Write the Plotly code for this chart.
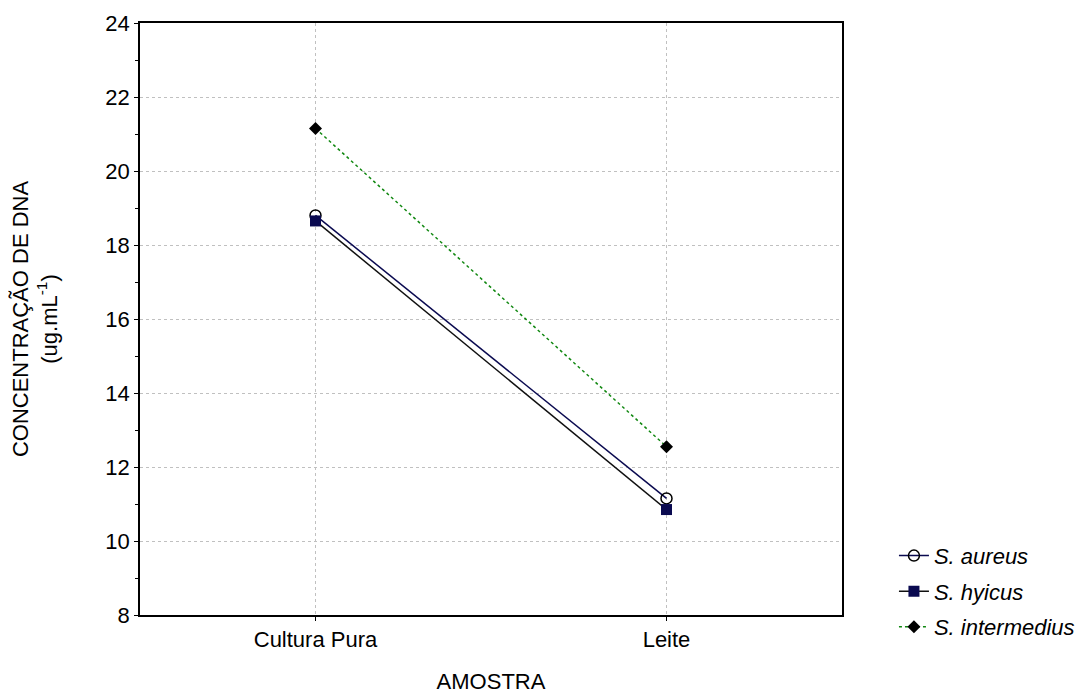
import plotly.graph_objects as go

categories = ["Cultura Pura", "Leite"]
aureus = [18.8, 11.15]
hyicus = [18.65, 10.85]
intermedius = [21.15, 12.55]
y_ticks = [8, 10, 12, 14, 16, 18, 20, 22, 24]

FONT = "Arial, Liberation Sans, sans-serif"
FS = 22

fig = go.Figure()
fig.add_trace(go.Scatter(
    x=categories, y=aureus, name="S. aureus", mode="lines+markers", legendgroup="a",
    line=dict(color="#0a0a50", width=1.5),
    marker=dict(symbol="circle-open", size=11, color="black", line=dict(width=1.5, color="black")),
))
fig.add_trace(go.Scatter(
    x=categories, y=hyicus, name="S. hyicus", mode="lines+markers", legendgroup="b",
    line=dict(color="#101010", width=1.5),
    marker=dict(symbol="square", size=11, color="#0a0a50"),
))
fig.add_trace(go.Scatter(
    x=categories, y=intermedius, name="S. intermedius", mode="lines+markers", legendgroup="c",
    line=dict(color="#118811", width=1.5, dash="dot"),
    marker=dict(symbol="diamond", size=10, color="black"),
))

fig.update_layout(
    width=1088, height=693,
    margin=dict(l=132, r=254, t=15, b=86, autoexpand=False),
    paper_bgcolor="white", plot_bgcolor="white",
    font=dict(family=FONT, size=FS, color="black"),
    legend=dict(x=1.074, y=0.04, xanchor="left", yanchor="middle",
                font=dict(size=FS, style="italic"), itemwidth=30,
                bgcolor="rgba(0,0,0,0)", tracegroupgap=4),
    showlegend=True,
)
fig.update_xaxes(
    range=[-0.5, 1.5], showgrid=True, gridcolor="#c0c0c0", griddash="dot", gridwidth=1,
    showline=True, linecolor="black", linewidth=1.5, mirror=True,
    ticks="outside", ticklen=4, tickcolor="black", automargin=False,
    title=dict(text="AMOSTRA", standoff=22, font=dict(size=FS)),
    zeroline=False,
)
fig.update_yaxes(
    range=[8, 24], tickvals=y_ticks, showgrid=True, gridcolor="#c0c0c0", griddash="dot", gridwidth=1,
    showline=True, linecolor="black", linewidth=1.5, mirror=True,
    ticks="outside", ticklen=4, tickcolor="black", automargin=False,
    minor=dict(dtick=1, ticks="outside", ticklen=3, tickcolor="black", showgrid=False),
    title=dict(text="CONCENTRAÇÃO DE DNA<br>(ug.mL<sup>-1</sup>)", standoff=45, font=dict(size=FS)),
    zeroline=False,
)
fig.write_html("out.html")
